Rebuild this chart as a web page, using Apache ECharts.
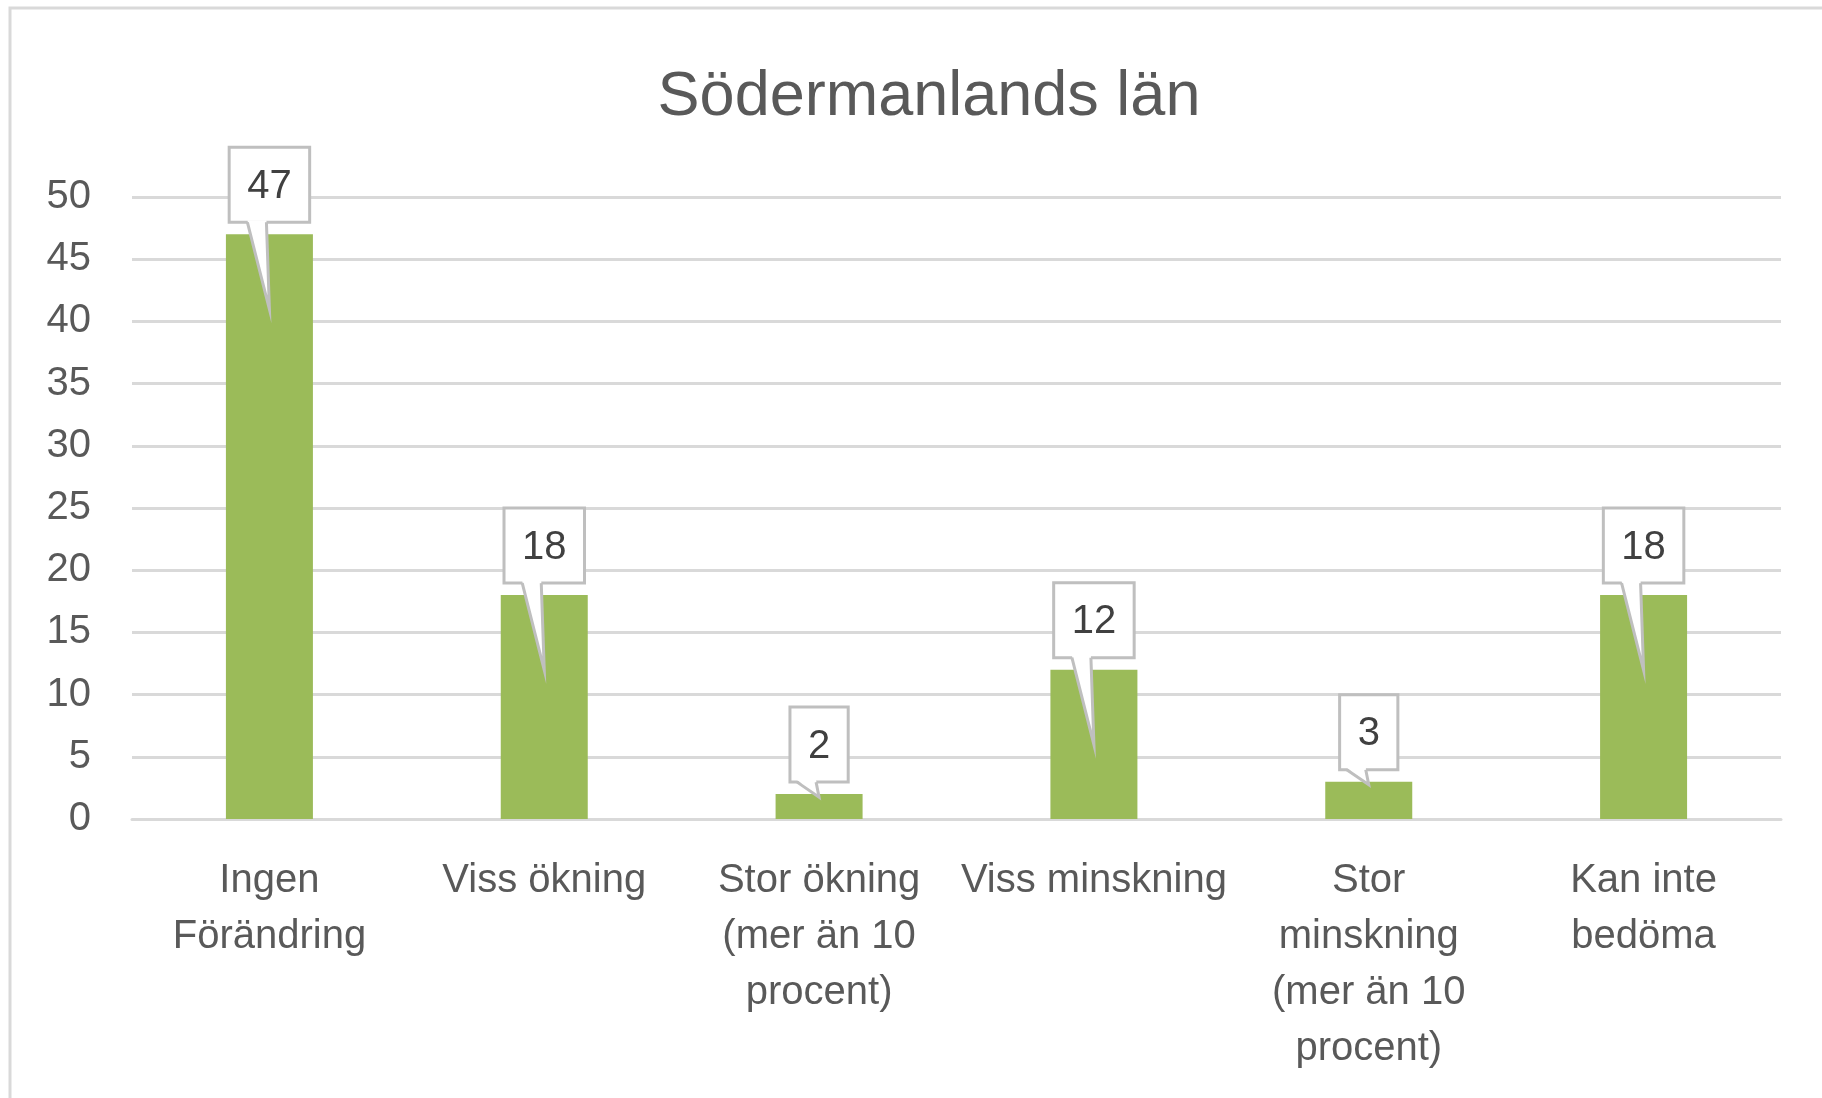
<!DOCTYPE html>
<html>
<head>
<meta charset="utf-8">
<title>Södermanlands län</title>
<script src="https://cdn.jsdelivr.net/npm/echarts@6/dist/echarts.min.js"></script>
<style>
  html, body { margin: 0; padding: 0; background: #fff; }
  #chart { width: 1822px; height: 1098px; }
</style>
</head>
<body>
<div id="chart"></div>
<script>
// data
const categories = [
  'Ingen\nFörändring',
  'Viss ökning',
  'Stor ökning\n(mer än 10\nprocent)',
  'Viss minskning',
  'Stor\nminskning\n(mer än 10\nprocent)',
  'Kan inte\nbedöma'
]
const values = [47, 18, 2, 12, 3, 18]
const yTicks = { min: 0, max: 50, interval: 5 }

const FONT = 'Liberation Sans'
const chart = echarts.init(document.getElementById('chart'))

const measure = (() => {
  const ctx = document.createElement('canvas').getContext('2d')
  return (text, size) => {
    ctx.font = size + 'px "' + FONT + '"'
    return ctx.measureText(text).width
  }
})()

// Excel-like data callout: box above bar with a thin tail pointing into it
const renderCallout = (params, api) => {
  const idx = api.value(0)
  const val = api.value(1)
  const top = api.coord([idx, val])
  const zero = api.coord([idx, 0])
  const cx = top[0]
  const label = String(val)
  const w = measure(label, 40) + 36
  const h = 75
  const bottom = top[1] - 12
  const barH = zero[1] - top[1]
  const tipY = barH > 100 ? top[1] + 75 : top[1] + 3
  const x1 = cx - 22
  const x2 = cx - 3
  const stroke = '#bfbfbf'
  return {
    type: 'group',
    children: [
      {
        type: 'rect',
        shape: { x: cx - w / 2, y: bottom - h, width: w, height: h },
        style: { fill: '#fff', stroke: stroke, lineWidth: 3 }
      },
      {
        type: 'polygon',
        shape: { points: [[x1, bottom - 2], [x2, bottom - 2], [cx, tipY]] },
        style: { fill: '#fff' }
      },
      {
        type: 'polyline',
        shape: { points: [[x1, bottom], [cx, tipY], [x2, bottom]] },
        style: { stroke: stroke, lineWidth: 3, fill: null }
      },
      {
        type: 'text',
        style: {
          x: cx, y: bottom - h / 2 + 2,
          text: label,
          font: '40px "' + FONT + '"',
          fill: '#404040',
          align: 'center',
          verticalAlign: 'middle'
        }
      }
    ]
  }
}

chart.setOption({
  animation: false,
  backgroundColor: '#fff',
  textStyle: { fontFamily: FONT },
  graphic: [
    {
      type: 'rect',
      shape: { x: 10, y: 8, width: 1900, height: 1200 },
      style: { fill: null, stroke: '#d9d9d9', lineWidth: 3 },
      z: -10
    }
  ],
  title: {
    text: 'Södermanlands län',
    left: 924,
    textAlign: 'center',
    top: 61,
    textStyle: { fontSize: 63, fontWeight: 'normal', color: '#595959', fontFamily: FONT }
  },
  grid: { left: 132, right: 41, top: 197, bottom: 279 },
  xAxis: {
    type: 'category',
    data: categories,
    axisLine: { show: true, lineStyle: { color: '#d9d9d9', width: 3 } },
    axisTick: { show: false },
    axisLabel: {
      interval: 0,
      margin: 34,
      fontSize: 40,
      lineHeight: 56,
      color: '#595959',
      fontFamily: FONT
    }
  },
  yAxis: {
    type: 'value',
    min: yTicks.min,
    max: yTicks.max,
    interval: yTicks.interval,
    axisLine: { show: false },
    axisTick: { show: false },
    splitLine: { lineStyle: { color: '#d9d9d9', width: 3 } },
    axisLabel: { margin: 41, fontSize: 40, color: '#595959', fontFamily: FONT }
  },
  series: [
    {
      type: 'bar',
      data: values,
      barWidth: 87,
      itemStyle: { color: '#9bbb59' }
    },
    {
      type: 'custom',
      data: values.map((v, i) => [i, v]),
      renderItem: renderCallout,
      clip: false,
      z: 5
    }
  ]
})
</script>
</body>
</html>
